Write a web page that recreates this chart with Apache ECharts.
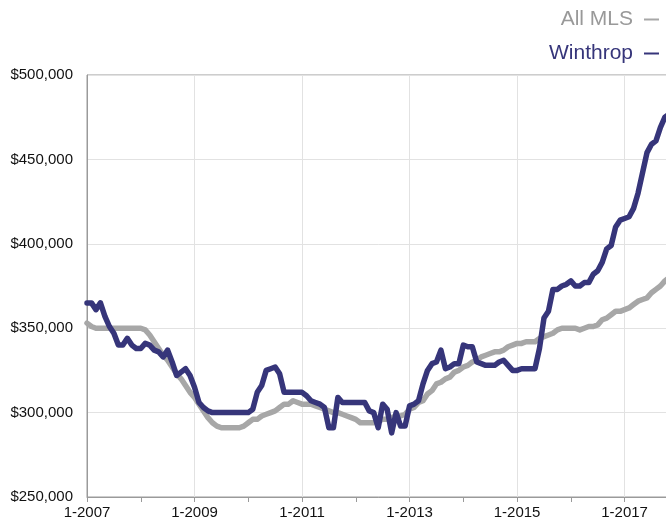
<!DOCTYPE html>
<html>
<head>
<meta charset="utf-8">
<script src="https://cdn.jsdelivr.net/npm/echarts@6/dist/echarts.min.js"></script>
<style>
html,body{margin:0;padding:0;background:#fff;overflow:hidden;width:666px;height:527px;}
#chart{width:700px;height:527px;}
</style>
</head>
<body>
<div id="chart"></div>
<script>
// Months from 1-2007 through 11-2017
var startYear = 2007;
var monthCount = 131;
var months = [];
for (var i = 0; i < monthCount; i++) {
  months.push(((i % 12) + 1) + '-' + (startYear + Math.floor(i / 12)));
}

var seriesNames = ['All MLS', 'Winthrop'];

var allMLS = [
  353000, 351000, 350000, 350000, 350000, 350000, 350000, 350000, 350000, 350000,
  350000, 350000, 350000, 349000, 346000, 342000, 338000, 334000, 331000, 327000,
  323000, 320000, 316000, 312000, 309000, 305000, 301000, 297000, 294000, 292000,
  291000, 291000, 291000, 291000, 291000, 292000, 294000, 296000, 296000, 298000,
  299000, 300000, 301000, 303000, 305000, 305000, 307000, 306000, 305000, 305000,
  305000, 304000, 303000, 302000, 301000, 300000, 300000, 299000, 298000, 297000,
  296000, 294000, 294000, 294000, 294000, 295000, 296000, 296000, 297000, 298000,
  298000, 299000, 302000, 303000, 306000, 307000, 311000, 313000, 317000, 318000,
  320000, 321000, 324000, 325000, 327000, 328000, 330000, 331000, 333000, 334000,
  335000, 336000, 336000, 337000, 339000, 340000, 341000, 341000, 342000, 342000,
  342000, 344000, 345000, 346000, 347000, 349000, 350000, 350000, 350000, 350000,
  349000, 350000, 351000, 351000, 352000, 355000, 356000, 358000, 360000, 360000,
  361000, 362000, 364000, 366000, 367000, 368000, 371000, 373000, 375000, 378000,
  380000
];

var winthrop = [
  365000, 365000, 361000, 365000, 357000, 351000, 347000, 340000, 340000, 344000,
  340000, 338000, 338000, 341000, 340000, 337000, 336000, 333000, 337000, 330000,
  322000, 324000, 326000, 322000, 315000, 306000, 303000, 301000, 300000, 300000,
  300000, 300000, 300000, 300000, 300000, 300000, 300000, 302000, 312000, 316000,
  325000, 326000, 327000, 323000, 312000, 312000, 312000, 312000, 312000, 310000,
  307000, 306000, 305000, 303000, 291000, 291000, 309000, 306000, 306000, 306000,
  306000, 306000, 306000, 301000, 300000, 291000, 305000, 302000, 288000, 300000,
  292000, 292000, 304000, 305000, 307000, 317000, 325000, 329000, 330000, 337000,
  326000, 327000, 329000, 329000, 340000, 339000, 339000, 330000, 329000, 328000,
  328000, 328000, 330000, 331000, 328000, 325000, 325000, 326000, 326000, 326000,
  326000, 338000, 356000, 360000, 373000, 373000, 375000, 376000, 378000, 375000,
  375000, 377000, 377000, 382000, 384000, 389000, 397000, 399000, 410000, 414000,
  415000, 416000, 421000, 430000, 442000, 454000, 459000, 461000, 469000, 475000,
  477000
];

var yMin = 250000, yMax = 500000, yStep = 50000;

var FONT = '"Liberation Sans", Arial, Helvetica, sans-serif';
var GRAY = '#a7a7a7';
var NAVY = '#36357a';

var chart = echarts.init(document.getElementById('chart'), null, {renderer: 'canvas'});
chart.setOption({
  animation: false,
  textStyle: {fontFamily: FONT},
  legend: {
    orient: 'vertical',
    right: 36,
    top: 4,
    align: 'right',
    itemGap: 13,
    itemWidth: 15,
    itemHeight: 2,
    icon: 'rect',
    data: [
      {name: seriesNames[0], textStyle: {color: '#999999'}},
      {name: seriesNames[1], textStyle: {color: NAVY}}
    ],
    textStyle: {fontSize: 21, fontFamily: FONT, padding: [0, 6, 0, 0]}
  },
  grid: {
    left: 87,
    top: 75,
    bottom: 30,
    width: 582.4,
    show: true,
    borderColor: '#9a9a9a',
    borderWidth: 1,
    containLabel: false
  },
  xAxis: {
    type: 'category',
    data: months,
    boundaryGap: false,
    axisLine: {lineStyle: {color: '#9a9a9a', width: 1}},
    axisTick: {
      show: true,
      length: 5,
      interval: function (idx) { return idx % 12 === 0; },
      lineStyle: {color: '#9a9a9a'}
    },
    axisLabel: {
      interval: function (idx) { return idx % 24 === 0; },
      color: '#111',
      fontSize: 15,
      margin: 8,
      fontFamily: FONT
    },
    splitLine: {
      show: true,
      interval: function (idx) { return idx % 24 === 0 && idx > 0; },
      lineStyle: {color: '#e2e2e2', width: 1}
    }
  },
  yAxis: {
    type: 'value',
    min: yMin,
    max: yMax,
    interval: yStep,
    axisLine: {show: true, lineStyle: {color: '#9a9a9a', width: 1}},
    axisTick: {show: false},
    axisLabel: {
      color: '#111',
      fontSize: 15,
      margin: 14,
      fontFamily: FONT,
      formatter: function (v) { return '$' + v.toLocaleString('en-US'); }
    },
    splitLine: {show: true, lineStyle: {color: '#e2e2e2', width: 1}}
  },
  series: [
    {
      name: seriesNames[0],
      type: 'line',
      data: allMLS,
      showSymbol: false,
      symbol: 'none',
      lineStyle: {color: GRAY, width: 5.5, join: 'round', cap: 'round'},
      itemStyle: {color: GRAY},
      z: 2
    },
    {
      name: seriesNames[1],
      type: 'line',
      data: winthrop,
      showSymbol: false,
      symbol: 'none',
      lineStyle: {color: NAVY, width: 5.5, join: 'round', cap: 'round'},
      itemStyle: {color: NAVY},
      z: 3
    }
  ]
});
</script>
</body>
</html>
